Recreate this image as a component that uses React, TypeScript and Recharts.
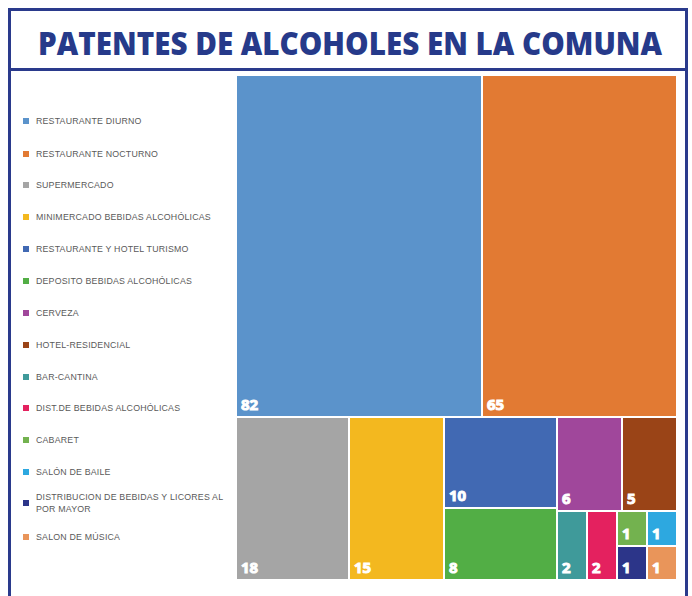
import React from 'react';
import { Treemap } from 'recharts';

const categories = [
  'RESTAURANTE DIURNO',
  'RESTAURANTE NOCTURNO',
  'SUPERMERCADO',
  'MINIMERCADO BEBIDAS ALCOHÓLICAS',
  'RESTAURANTE Y HOTEL TURISMO',
  'DEPOSITO BEBIDAS ALCOHÓLICAS',
  'CERVEZA',
  'HOTEL-RESIDENCIAL',
  'BAR-CANTINA',
  'DIST.DE BEBIDAS ALCOHÓLICAS',
  'CABARET',
  'SALÓN DE BAILE',
  'DISTRIBUCION DE BEBIDAS Y LICORES AL POR MAYOR',
  'SALON DE MÚSICA',
];

const values = [82, 65, 18, 15, 10, 8, 6, 5, 2, 2, 1, 1, 1, 1];

const colors = [
  '#5B93CB',
  '#E27A33',
  '#A5A5A5',
  '#F3B81F',
  '#4169B3',
  '#52AE45',
  '#A0479B',
  '#9A4417',
  '#3F9A9A',
  '#E4215F',
  '#73B24F',
  '#2DA8E0',
  '#2C3589',
  '#E9955A',
];

const leaf = (i: number) => ({ name: categories[i], size: values[i], fill: colors[i] });

// grouping so the squarified layout matches the original arrangement
const treeData = [
  { name: 'top', children: [leaf(0), leaf(1)] },
  {
    name: 'bottom',
    children: [
      leaf(2),
      leaf(3),
      { name: 'g1', children: [leaf(4), leaf(5)] },
      {
        name: 'g2',
        children: [
          { name: 'g2a', children: [leaf(6), leaf(7)] },
          {
            name: 'g2b',
            children: [
              leaf(8),
              {
                name: 'g5',
                children: [
                  leaf(9),
                  { name: 'g3', children: [leaf(10), leaf(11), leaf(12), leaf(13)] },
                ],
              },
            ],
          },
        ],
      },
    ],
  },
];

const CellContent = (props: any) => {
  const { x, y, width, height, children, fill, value, depth } = props;
  if ((children && children.length) || depth === 0) return null;
  return (
    <g>
      <rect x={x} y={y} width={width} height={height} fill={fill} stroke="#ffffff" strokeWidth={2} />
      <text
        x={x + 5}
        y={y + height - 7}
        fill="#ffffff"
        fontSize={15}
        fontWeight={700}
        fontFamily="'Open Sans', sans-serif"
      >
        {value}
      </text>
    </g>
  );
};

const legendTops = [121, 154, 185, 217, 249, 281, 313, 345, 377, 408, 440, 472, 503, 537];

export default function App() {
  const navy = '#2A3A8C';
  return (
    <div style={{ position: 'absolute', left: 0, top: 0, width: 692, height: 596, background: '#fff', overflow: 'hidden' }}>
      {/* frame */}
      <div style={{ position: 'absolute', left: 8, top: 8, width: 3, height: 600, background: navy }} />
      <div style={{ position: 'absolute', left: 685, top: 8, width: 3, height: 600, background: navy }} />
      <div style={{ position: 'absolute', left: 8, top: 8, width: 680, height: 3, background: navy }} />
      <div style={{ position: 'absolute', left: 8, top: 68, width: 680, height: 3, background: navy }} />
      <svg style={{ position: 'absolute', left: 0, top: 0 }} width={692} height={70}>
        <text
          x={38}
          y={55}
          fill="#263A8A"
          fontSize={31}
          fontWeight={800}
          fontFamily="'Open Sans', sans-serif"
          textLength={624}
          lengthAdjust="spacingAndGlyphs"
        >
          PATENTES DE ALCOHOLES EN LA COMUNA
        </text>
      </svg>
      {/* legend */}
      {categories.map((c, i) => (
        <div
          key={c}
          style={{
            position: 'absolute',
            left: 23,
            top: legendTops[i],
            transform: 'translateY(-50%)',
            display: 'flex',
            alignItems: 'center',
            width: 205,
          }}
        >
          <div style={{ width: 6, height: 6, background: colors[i], flex: 'none', marginRight: 7 }} />
          <div
            style={{
              fontFamily: "'Liberation Sans', Arial, sans-serif",
              fontSize: 8.8,
              letterSpacing: 0.2,
              color: '#5a5a5a',
              lineHeight: '12px',
            }}
          >
            {c}
          </div>
        </div>
      ))}
      <div style={{ position: 'absolute', left: 236, top: 75 }}>
        <Treemap
          width={441}
          height={505}
          data={treeData}
          dataKey="size"
          aspectRatio={1}
          stroke="#fff"
          isAnimationActive={false}
          content={<CellContent />}
        />
      </div>
    </div>
  );
}
